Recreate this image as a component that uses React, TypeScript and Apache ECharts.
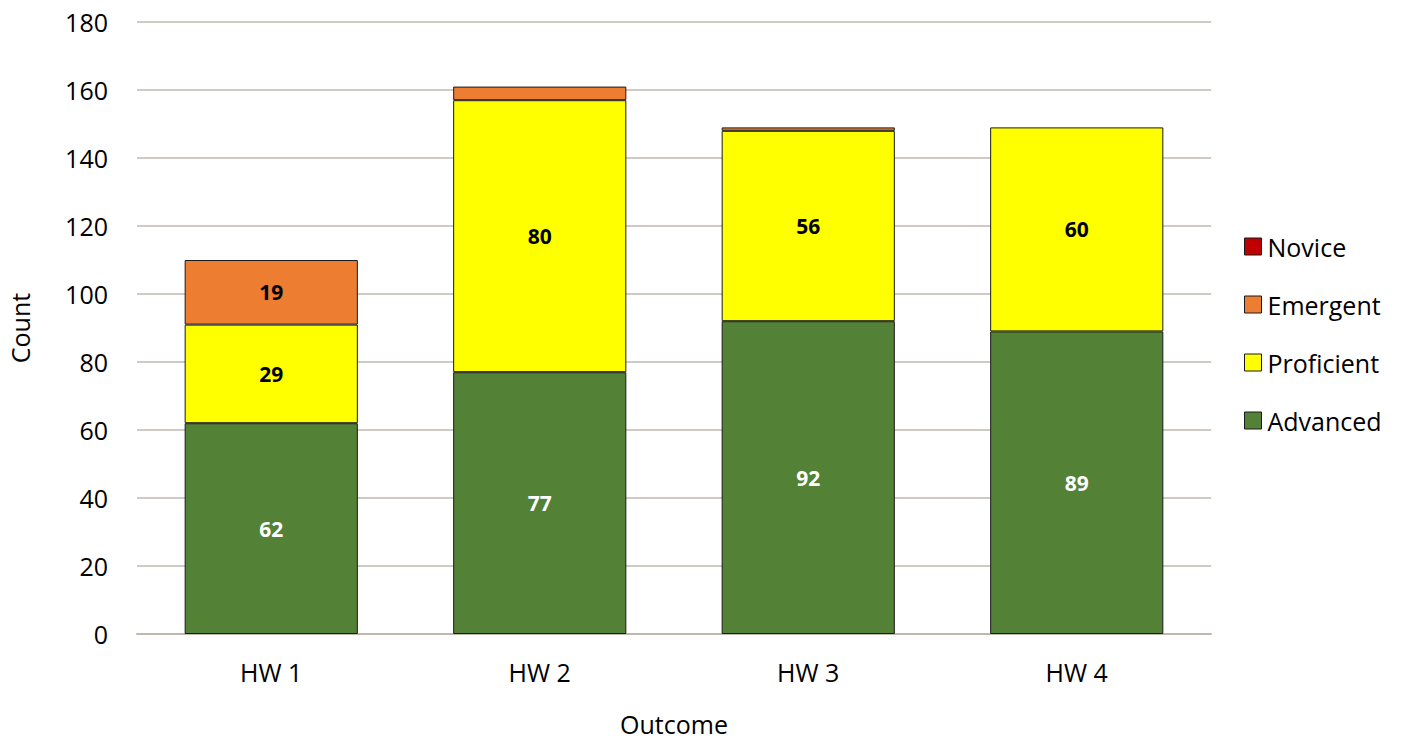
import React, { useEffect, useRef } from "react";
import * as echarts from "echarts";

const categories = ["HW 1", "HW 2", "HW 3", "HW 4"];
const advanced = [62, 77, 92, 89];
const proficient = [29, 80, 56, 60];
const emergent = [19, 4, 1, 0];
const novice = [0, 0, 0, 0];
const yTicks = { min: 0, max: 180, interval: 20 };

const FONT = "'Open Sans', 'Liberation Sans', sans-serif";

export default function App() {
  const ref = useRef<HTMLDivElement>(null);
  useEffect(() => {
    if (!ref.current) return;
    const chart = echarts.init(ref.current, null, { renderer: "svg" });
    const mkLabel = (color: string) => ({
      show: true,
      position: "inside",
      color,
      fontWeight: "bold",
      fontSize: 21,
      fontFamily: FONT,
      formatter: (p: any) => (p.value >= 10 ? String(p.value) : ""),
    });
    const mkSeries = (name: string, data: number[], color: string, labelColor: string) => ({
      name,
      type: "bar",
      stack: "total",
      data: data.map((v) => (v === 0 ? null : v)),
      barWidth: "64.5%",
      itemStyle: { color, borderColor: "#1a1a1a", borderWidth: 1 },
      label: mkLabel(labelColor),
    });
    chart.setOption({
      animation: false,
      textStyle: { fontFamily: FONT },
      grid: {
        left: 137,
        right: 195,
        top: 22,
        bottom: 106,
        containLabel: false,
        outerBoundsMode: "none",
      },
      legend: {
        orient: "vertical",
        left: 1239,
        top: 229,
        itemWidth: 17,
        itemHeight: 17,
        itemGap: 33,
        icon: "rect",
        data: ["Novice", "Emergent", "Proficient", "Advanced"],
        textStyle: { fontSize: 25, color: "#000", fontFamily: FONT, padding: [0, 0, 0, 1] },
        itemStyle: { borderColor: "#1a1a1a", borderWidth: 1 },
      },
      xAxis: {
        type: "category",
        data: categories,
        name: "Outcome",
        nameLocation: "middle",
        nameGap: 77,
        nameTextStyle: { fontSize: 25, color: "#000", fontFamily: FONT },
        axisLine: { lineStyle: { color: "#bfb8af", width: 2 } },
        axisTick: { show: false },
        axisLabel: { fontSize: 25, color: "#000", margin: 25, fontFamily: FONT },
      },
      yAxis: {
        type: "value",
        min: yTicks.min,
        max: yTicks.max,
        interval: yTicks.interval,
        name: "Count",
        nameLocation: "middle",
        nameGap: 105,
        nameRotate: 90,
        nameTextStyle: { fontSize: 25, color: "#000", fontFamily: FONT },
        axisLine: { show: false },
        axisTick: { show: false },
        axisLabel: { fontSize: 25, color: "#000", margin: 29, fontFamily: FONT },
        splitLine: { lineStyle: { color: "#bfb8af", width: 1.5 } },
      },
      series: [
        mkSeries("Advanced", advanced, "#538135", "#ffffff"),
        mkSeries("Proficient", proficient, "#ffff00", "#000000"),
        mkSeries("Emergent", emergent, "#ed7d31", "#000000"),
        mkSeries("Novice", novice, "#c00000", "#000000"),
      ],
    });
    return () => chart.dispose();
  }, []);
  return (
    <div
      ref={ref}
      style={{ position: "absolute", left: 0, top: 0, width: 1406, height: 740, background: "#fff" }}
    />
  );
}
